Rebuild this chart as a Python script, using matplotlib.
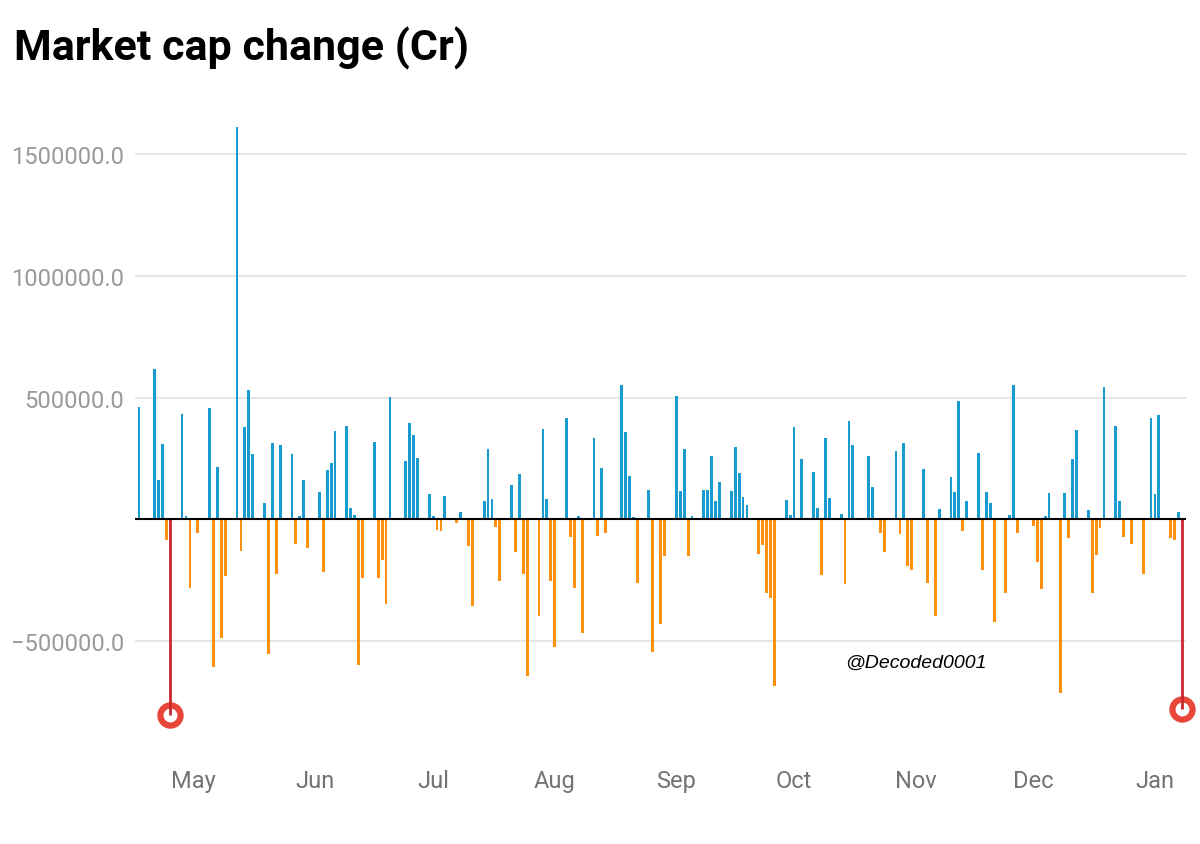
import matplotlib
matplotlib.use("Agg")
import matplotlib.pyplot as plt
import matplotlib.dates as mdates
import pandas as pd

# daily change in market cap (Cr), trading days Apr 2025 - Jan 2026
dates = [
    "2025-04-17", "2025-04-21", "2025-04-22", "2025-04-23", "2025-04-24",
    "2025-04-28", "2025-04-29", "2025-04-30", "2025-05-02",
    "2025-05-05", "2025-05-06", "2025-05-07", "2025-05-08", "2025-05-09",
    "2025-05-12", "2025-05-13", "2025-05-14", "2025-05-15", "2025-05-16",
    "2025-05-19", "2025-05-20", "2025-05-21", "2025-05-22", "2025-05-23",
    "2025-05-26", "2025-05-27", "2025-05-28", "2025-05-29", "2025-05-30",
    "2025-06-02", "2025-06-03", "2025-06-04", "2025-06-05", "2025-06-06",
    "2025-06-09", "2025-06-10", "2025-06-11", "2025-06-12", "2025-06-13",
    "2025-06-16", "2025-06-17", "2025-06-18", "2025-06-19", "2025-06-20",
    "2025-06-24", "2025-06-25", "2025-06-26", "2025-06-27",
    "2025-06-30", "2025-07-01", "2025-07-02", "2025-07-03", "2025-07-04",
    "2025-07-07", "2025-07-08", "2025-07-10", "2025-07-11",
    "2025-07-14", "2025-07-15", "2025-07-16", "2025-07-17", "2025-07-18",
    "2025-07-21", "2025-07-22", "2025-07-23", "2025-07-24", "2025-07-25",
    "2025-07-28", "2025-07-29", "2025-07-30", "2025-07-31", "2025-08-01",
    "2025-08-04", "2025-08-05", "2025-08-06", "2025-08-07", "2025-08-08",
    "2025-08-11", "2025-08-12", "2025-08-13", "2025-08-14",
    "2025-08-18", "2025-08-19", "2025-08-20", "2025-08-21", "2025-08-22",
    "2025-08-25", "2025-08-26", "2025-08-28", "2025-08-29",
    "2025-09-01", "2025-09-02", "2025-09-03", "2025-09-04", "2025-09-05",
    "2025-09-08", "2025-09-09", "2025-09-10", "2025-09-11", "2025-09-12",
    "2025-09-15", "2025-09-16", "2025-09-17", "2025-09-18", "2025-09-19",
    "2025-09-22", "2025-09-23", "2025-09-24", "2025-09-25", "2025-09-26",
    "2025-09-29", "2025-09-30", "2025-10-01", "2025-10-03",
    "2025-10-06", "2025-10-07", "2025-10-08", "2025-10-09", "2025-10-10",
    "2025-10-13", "2025-10-14", "2025-10-15", "2025-10-16",
    "2025-10-20", "2025-10-21", "2025-10-23", "2025-10-24",
    "2025-10-27", "2025-10-28", "2025-10-29", "2025-10-30", "2025-10-31",
    "2025-11-03", "2025-11-04", "2025-11-06", "2025-11-07",
    "2025-11-10", "2025-11-11", "2025-11-12", "2025-11-13", "2025-11-14",
    "2025-11-17", "2025-11-18", "2025-11-19", "2025-11-20", "2025-11-21",
    "2025-11-24", "2025-11-25", "2025-11-26", "2025-11-27",
    "2025-12-01", "2025-12-02", "2025-12-03", "2025-12-04", "2025-12-05",
    "2025-12-08", "2025-12-09", "2025-12-10", "2025-12-11", "2025-12-12",
    "2025-12-15", "2025-12-16", "2025-12-17", "2025-12-18", "2025-12-19",
    "2025-12-22", "2025-12-23", "2025-12-24", "2025-12-26",
    "2025-12-29", "2025-12-31", "2026-01-01", "2026-01-02",
    "2026-01-05", "2026-01-06", "2026-01-07",
]
values = [
    460000, 617000, 163000, 311000, -85000,
    432000, 12000, -281000, -55000,
    456000, -609000, 214000, -487000, -233000,
    1613000, -129000, 378000, 533000, 267000,
    67000, -553000, 314000, -225000, 306000,
    267000, -100000, 15000, 163000, -119000,
    112000, -218000, 202000, 230000, 362000,
    385000, 45000, 18000, -599000, -243000,
    319000, -241000, -167000, -348000, 503000,
    241000, 395000, 347000, 254000,
    106000, 15000, -45000, -49000, 95000,
    -16000, 29000, -111000, -356000,
    77000, 287000, 82000, -32000, -252000,
    140000, -133000, 186000, -223000, -646000,
    -398000, 372000, 84000, -255000, -526000,
    417000, -71000, -284000, 12000, -466000,
    335000, -70000, 210000, -58000,
    551000, 361000, 177000, 8000, -262000,
    122000, -546000, -429000, -149000,
    506000, 117000, 288000, -151000, 14000,
    121000, 122000, 262000, 74000, 155000,
    115000, 298000, 191000, 90000, 60000,
    -144000, -107000, -303000, -322000, -687000,
    78000, 16000, 381000, 248000,
    195000, 45000, -228000, 333000, 89000,
    21000, -266000, 406000, 306000,
    262000, 134000, -55000, -133000,
    280000, -59000, 314000, -191000, -207000,
    206000, -260000, -398000, 44000,
    174000, 111000, 485000, -48000, 75000,
    274000, -210000, 111000, 69000, -424000,
    -302000, 16000, 554000, -56000,
    -26000, -174000, -285000, 15000, 108000,
    -714000, 110000, -78000, 247000, 366000,
    37000, -304000, -148000, -36000, 543000,
    384000, 74000, -71000, -101000,
    -226000, 417000, 103000, 429000,
    -78000, -86000, 32000,
]

# highlighted days (drawn as red lollipops)
hl_dates = ["2025-04-25", "2026-01-08"]
hl_values = [-805000, -778000]

yticks = [-500000, 500000, 1000000, 1500000]

BLUE = "#1a9bd0"
ORANGE = "#ff9110"

x = pd.to_datetime(dates)
hx = pd.to_datetime(hl_dates)
colors = [BLUE if v > 0 else ORANGE for v in values]

fig = plt.figure(figsize=(12, 8.45), dpi=100)
ax = fig.add_axes([135 / 1200, 1 - 755 / 845, 1051 / 1200, 645 / 845])

ax.bar(x, values, width=0.72, color=colors, zorder=3)

ax.vlines(hx, 0, hl_values, color="#c8282c", linewidth=2, zorder=5)
ax.plot(hx, hl_values, "o", markersize=14.5, markerfacecolor="white",
        markeredgecolor="#e9463a", markeredgewidth=4.5, zorder=4,
        clip_on=False)

ax.axhline(0, color="black", linewidth=1.5, zorder=6)

ax.set_xlim(pd.Timestamp("2025-04-16"), pd.Timestamp("2026-01-08 22:00"))
ax.set_ylim(-965000, 1687000)

ax.set_yticks(yticks)
ax.set_yticklabels([f"{t:.1f}".replace("-", "\u2212") for t in yticks])
ax.grid(axis="y", color="#e6e6e6", linewidth=1.5, zorder=0)
ax.xaxis.set_major_locator(mdates.MonthLocator())
ax.xaxis.set_major_formatter(mdates.DateFormatter("%b"))

for s in ax.spines.values():
    s.set_visible(False)
ax.tick_params(axis="both", length=0)
ax.tick_params(axis="y", pad=8, labelsize=17, labelcolor="#9a9a9a")
ax.tick_params(axis="x", pad=11, labelsize=17, labelcolor="#737373")
for lab in ax.get_xticklabels() + ax.get_yticklabels():
    lab.set_fontfamily("Roboto")

fig.text(14 / 1200, 1 - 48 / 845, "Market cap change (Cr)", fontsize=31,
         fontweight="bold", family="Roboto", va="center", ha="left")
ax.text(pd.Timestamp("2025-10-14"), -590000, "@Decoded0001", fontsize=14,
        style="italic", family="Liberation Sans", va="center", ha="left")

fig.savefig("out.png", dpi=100)
